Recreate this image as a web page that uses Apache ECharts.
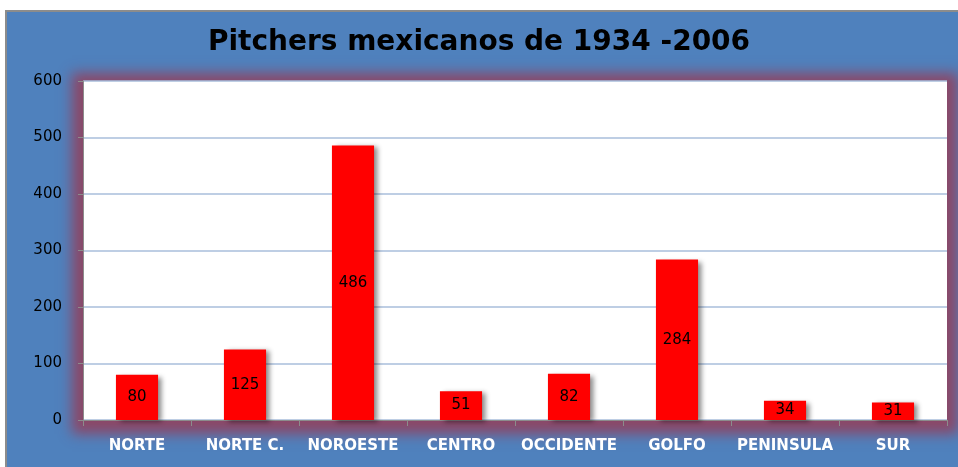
<!DOCTYPE html>
<html>
<head>
<meta charset="utf-8">
<script src="https://cdn.jsdelivr.net/npm/echarts@6/dist/echarts.min.js"></script>
<style>
  html, body { margin: 0; padding: 0; background: #ffffff; }
  #wrap { position: relative; width: 958px; height: 467px; overflow: hidden; background: #ffffff; }
  #panel { position: absolute; left: 5px; top: 10px; width: 970px; height: 480px; background: #4f81bd; border: 2px solid #8c8c8c; box-sizing: border-box; }
  #glow { position: absolute; left: 83px; top: 81px; width: 864px; height: 339px; background: #ffffff; box-shadow: 0 3px 12px 11px rgb(139,72,104); }
  #chart { position: absolute; left: 0; top: 0; width: 958px; height: 467px; }
</style>
</head>
<body>
<div id="wrap">
  <div id="panel"></div>
  <div id="glow"></div>
  <div id="chart"></div>
</div>
<script>
const titleText = 'Pitchers mexicanos de 1934 -2006';
const categories = ['NORTE', 'NORTE C.', 'NOROESTE', 'CENTRO', 'OCCIDENTE', 'GOLFO', 'PENINSULA', 'SUR'];
const pitchers = [80, 125, 486, 51, 82, 284, 34, 31];
const yTicks = [0, 100, 200, 300, 400, 500, 600];

const chart = echarts.init(document.getElementById('chart'), null, { renderer: 'canvas' });
chart.setOption({
  backgroundColor: 'transparent',
  animation: false,
  title: {
    text: titleText,
    left: 'center',
    top: 24,
    textStyle: { fontFamily: 'DejaVu Sans', fontWeight: 'bold', fontSize: 28, color: '#000000' }
  },
  grid: {
    show: true,
    left: 83, top: 81, right: 11, bottom: 47,
    backgroundColor: '#ffffff',
    borderWidth: 0
  },
  xAxis: {
    type: 'category',
    data: categories,
    axisLine: { show: true, lineStyle: { color: '#8c8c8c', width: 1 } },
    axisTick: { show: true, length: 6, lineStyle: { color: '#8c8c8c' } },
    axisLabel: { interval: 0, color: '#ffffff', fontFamily: 'DejaVu Sans', fontWeight: 'bold', fontSize: 15, margin: 19 }
  },
  yAxis: {
    type: 'value',
    min: yTicks[0],
    max: yTicks[yTicks.length - 1],
    interval: yTicks[1] - yTicks[0],
    axisLine: { show: true, lineStyle: { color: '#8c8c8c' } },
    axisTick: { show: true, length: 5, lineStyle: { color: '#8c8c8c' } },
    axisLabel: { color: '#000000', fontFamily: 'DejaVu Sans', fontSize: 15, margin: 21 },
    splitLine: { show: true, lineStyle: { color: '#a9bedb', width: 1.5 } }
  },
  series: [{
    type: 'bar',
    data: pitchers,
    barWidth: '39%',
    itemStyle: {
      color: '#ff0000',
      shadowColor: 'rgba(0,0,0,0.45)',
      shadowBlur: 5,
      shadowOffsetX: 4,
      shadowOffsetY: 2
    },
    label: {
      show: true,
      position: 'inside',
      color: '#000000',
      fontFamily: 'DejaVu Sans',
      fontSize: 15
    }
  }]
});
</script>
</body>
</html>
